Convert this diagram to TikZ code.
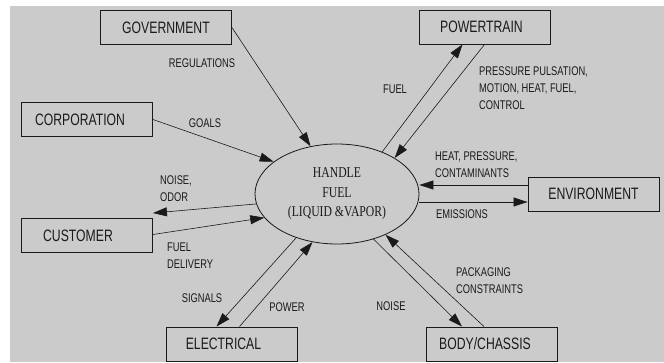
\documentclass[tikz,border=0pt]{standalone}
\usepackage{fontspec}
\usepackage{tikz}
\usetikzlibrary{positioning, arrows.meta, shapes.geometric}
\newfontfamily\sansnarrow{Liberation Sans}[FakeStretch=0.74]
\newfontfamily\serifnarrow{Liberation Serif}[FakeStretch=0.78]
\definecolor{bggray}{HTML}{CBCBCB}
\definecolor{ink}{HTML}{1A1A1A}
\newcommand{\boxfont}{\sansnarrow\fontsize{16.5}{18}\selectfont}
\newcommand{\tagfont}{\sansnarrow\fontsize{12.6}{17}\selectfont}
\newcommand{\hubfont}{\serifnarrow\fontsize{15}{19.5}\selectfont}

\begin{document}
\begin{tikzpicture}[
    x=1pt, y=-1pt,
    ext/.style={rectangle, draw=ink, line width=0.9pt, text=ink,
                minimum width=131pt, minimum height=34pt, inner sep=0pt,
                font=\boxfont},
    hub/.style={ellipse, draw=ink, line width=0.8pt, text=ink,
                minimum width=164pt, minimum height=100pt, inner sep=0pt,
                align=center, font=\hubfont},
    flow/.style={-{Triangle[length=14pt,width=9pt]}, line width=0.6pt, ink},
    tag/.style={text=ink, font=\tagfont, align=left, inner sep=0pt}
  ]
    \useasboundingbox (0,0) rectangle (664,362);
    \fill[bggray] (10,6) rectangle (664,362);

    % the process and the things round it
    \node[hub] (fuel) at (337,194) {HANDLE\\FUEL\\(LIQUID \&VAPOR)};
    \node[ext] (gov) at (166,27.5) {GOVERNMENT};
    \node[ext] (corp) at (87,119.5) {CORPORATION\hspace*{14pt}};
    \node[ext] (powertrain) at (484.5,27) {POWERTRAIN\hspace*{6pt}};
    \node[ext] (customer) at (87,235.5) {CUSTOMER\hspace*{18pt}};
    \node[ext] (electrical) at (231.5,344) {ELECTRICAL\hspace*{16pt}};
    \node[ext] (environment) at (593.5,194) {ENVIRONMENT};
    \node[ext] (body) at (492,344) {BODY/CHASSIS\hspace*{14pt}};

    % flow labels
    \node[tag] (regs) at (202,63) {REGULATIONS};
    \node[tag] (goals) at (205,123) {GOALS};
    \node[tag] (fuelout) at (395,89) {FUEL};
    \node[tag, anchor=west] (ptin) at (479,88) {PRESSURE PULSATION,\\MOTION, HEAT, FUEL,\\CONTROL};
    \node[tag, anchor=west] (envin) at (435,164.5) {HEAT, PRESSURE,\\CONTAMINANTS};
    \node[tag] (emis) at (462,214) {EMISSIONS};
    \node[tag, anchor=west] (odor) at (160,188.5) {NOISE,\\ODOR};
    \node[tag, anchor=west] (delivery) at (167,255.5) {FUEL\\DELIVERY};
    \node[tag] (signals) at (202,298) {SIGNALS};
    \node[tag] (power) at (287,307) {POWER};
    \node[tag] (noise) at (391,306) {NOISE};
    \node[tag, anchor=west] (packaging) at (456,280.5) {PACKAGING\\CONSTRAINTS};

    \draw[flow] (gov.east) -- (fuel.119);
    \draw[flow] (corp.east) -- (fuel.153);
    \draw[flow] (fuel.43) -- ([xshift=-22pt]powertrain.south);
    \draw[flow] (powertrain.south) -- (fuel.32);
    \draw[flow] ([yshift=9pt]environment.west) -- ([yshift=9pt]fuel.east);
    \draw[flow] ([yshift=-8pt]fuel.east) -- ([yshift=-8pt]environment.west);
    \draw[flow] (fuel.187) -- ([yshift=5pt]customer.north east);
    \draw[flow] ([yshift=1pt]customer.east) -- (fuel.198);
    \draw[flow] (fuel.227) -- ([xshift=-15pt]electrical.north);
    \draw[flow] ([xshift=8pt]electrical.north) -- (fuel.243);
    \draw[flow] (fuel.309) -- ([xshift=-30pt]body.north);
    \draw[flow] ([xshift=-8pt]body.north) -- (fuel.320);
\end{tikzpicture}
\end{document}
